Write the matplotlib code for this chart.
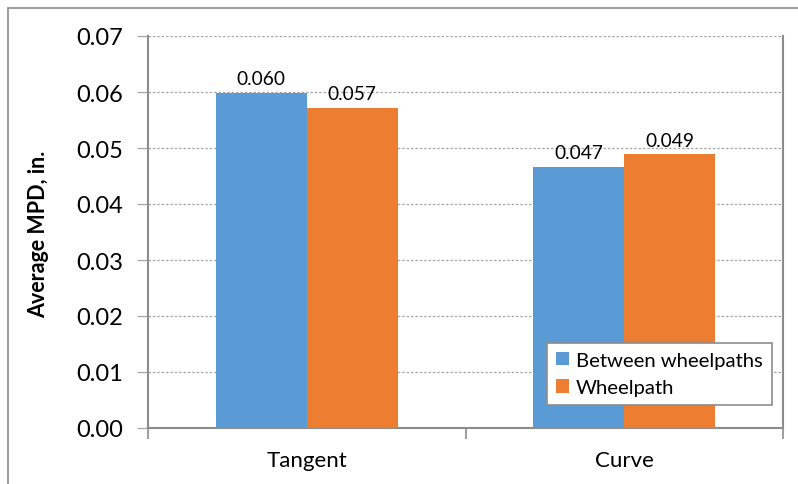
import matplotlib.pyplot as plt
from matplotlib.patches import Rectangle
import numpy as np

categories = ['Tangent', 'Curve']
series_names = ['Between wheelpaths', 'Wheelpath']
between = [0.0599, 0.0466]
wheelpath = [0.0572, 0.0489]
labels_between = ['0.060', '0.047']
labels_wheel = ['0.057', '0.049']
yticks = [0.00, 0.01, 0.02, 0.03, 0.04, 0.05, 0.06, 0.07]

plt.rcParams['font.family'] = ['Lato', 'DejaVu Sans']

fig = plt.figure(figsize=(7.98, 4.85), dpi=100)
ax = fig.add_axes([148/798, 1 - 429/485, (783 - 148)/798, (429 - 37)/485])

# outer chart border (cut off at right/bottom like the reference)
fig.patches.append(Rectangle((8/798, -0.1), 1.2, 1 - 9/485 + 0.1,
                             transform=fig.transFigure, fill=False,
                             edgecolor='#8c8c8c', linewidth=1.2))

x = np.arange(len(categories))
w = 0.287
b1 = ax.bar(x - w/2, between, w, color='#5B9BD5', label=series_names[0], zorder=3)
b2 = ax.bar(x + w/2, wheelpath, w, color='#ED7D31', label=series_names[1], zorder=3)

for rect, txt in zip(b1, labels_between):
    ax.text(rect.get_x() + rect.get_width()/2, rect.get_height() + 0.0010, txt,
            ha='center', va='bottom', fontsize=13.8, zorder=4)
for rect, txt in zip(b2, labels_wheel):
    ax.text(rect.get_x() + rect.get_width()/2, rect.get_height() + 0.0010, txt,
            ha='center', va='bottom', fontsize=13.8, zorder=4)

ax.set_xlim(-0.5, 1.5)
ax.set_ylim(0, 0.07)
ax.set_yticks(yticks)
ax.set_yticklabels(['%.2f' % v for v in yticks], fontsize=17)
ax.yaxis.grid(True, linestyle=(0, (2, 1.5)), color='#a6a6a6', linewidth=0.9, zorder=0)

# category boundary ticks on x axis
ax.set_xticks([-0.5, 0.5, 1.5])
ax.set_xticklabels([])
ax.set_xticks(x, minor=True)
ax.set_xticklabels(categories, minor=True, fontsize=16)
ax.tick_params(axis='x', which='minor', length=0, pad=16)
ax.tick_params(axis='x', which='major', length=8, color='#8c8c8c', width=1.2)
ax.tick_params(axis='y', length=8, color='#a6a6a6', width=0.9, pad=10)

for s in ['left', 'bottom', 'right']:
    ax.spines[s].set_color('#8c8c8c')
    ax.spines[s].set_linewidth(1.5)
ax.spines['top'].set_visible(False)

fig.text(39/798, 1 - 234/485, 'Average MPD, in.', fontsize=15.5, fontweight='bold',
         rotation=90, ha='center', va='center')

leg = ax.legend(loc='lower right', bbox_to_anchor=(772/798, 1 - 406/485),
                bbox_transform=fig.transFigure, fontsize=14.6, frameon=True,
                fancybox=False, framealpha=1, handlelength=0.65, handleheight=0.65,
                handletextpad=0.35, borderpad=0.45, labelspacing=0.5,
                borderaxespad=0)
leg.get_frame().set_edgecolor('#8c8c8c')
leg.get_frame().set_linewidth(1.2)
leg.get_frame().set_facecolor('white')

fig.savefig('out.png', dpi=100)
